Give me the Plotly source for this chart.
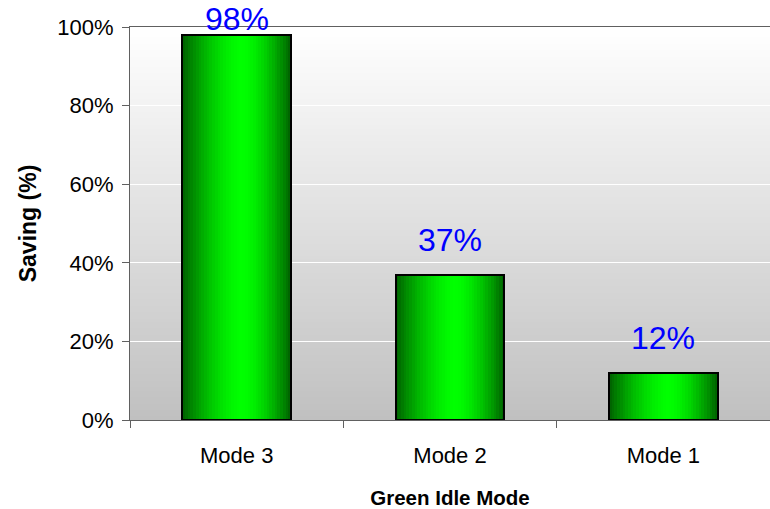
import math
import plotly.graph_objects as go

categories = ["Mode 3", "Mode 2", "Mode 1"]
savings = [0.98, 0.37, 0.12]
label_texts = ["98%", "37%", "12%"]
y_ticks = [0, 0.2, 0.4, 0.6, 0.8, 1.0]
y_tick_labels = ["0%", "20%", "40%", "60%", "80%", "100%"]

FONT = "Liberation Sans, Arial, sans-serif"
BAR_W = 0.51
N_STRIPES = 40
PEAK = 0.55

fig = go.Figure()

# horizontal green gradient drawn as thin bar stripes
dw = BAR_W / N_STRIPES
for i in range(N_STRIPES):
    t = (i + 0.5) / N_STRIPES
    side = PEAK if t < PEAK else 1 - PEAK
    d = abs(t - PEAK) / side
    g = int(round(95 + 160 * (1 - d ** 1.6)))
    w = min(2 * dw, BAR_W - i * dw)
    fig.add_trace(go.Bar(
        x=categories, y=savings, width=w, offset=-BAR_W / 2 + i * dw,
        marker=dict(color=f"rgb(0,{g},0)", line=dict(width=0)),
        hoverinfo="skip", showlegend=False,
    ))

# outline
fig.add_trace(go.Bar(
    x=categories, y=savings, width=BAR_W, offset=-BAR_W / 2,
    marker=dict(color="rgba(0,0,0,0)", line=dict(color="black", width=2)),
    showlegend=False,
))

# value labels
for c, v, txt in zip(categories, savings, label_texts):
    fig.add_annotation(
        x=c, y=min(v + 0.037, 0.969), text=txt, showarrow=False,
        xanchor="center", yanchor="bottom",
        font=dict(family=FONT, size=32, color="#0000ff"),
    )

# plot-area vertical gradient background
N_BG = 120
for i in range(N_BG):
    f = (i + 0.5) / N_BG
    c = int(round(192 + (255 - 192) * f))
    fig.add_shape(
        type="rect", xref="paper", yref="paper",
        x0=0, x1=1, y0=i / N_BG, y1=min((i + 1.6) / N_BG, 1),
        fillcolor=f"rgb({c},{c},{c})", line=dict(width=0), layer="below",
    )

fig.update_layout(
    width=770, height=509,
    margin=dict(l=130, r=0, t=27, b=89, autoexpand=False),
    paper_bgcolor="white", plot_bgcolor="rgba(0,0,0,0)",
    barmode="overlay", bargap=0, showlegend=False,
    font=dict(family=FONT, color="black"),
)
fig.update_xaxes(
    type="category", range=[-0.5, 2.5],
    showline=True, linecolor="#606060", linewidth=1, mirror=True,
    ticks="outside", tickson="boundaries", ticklen=7, tickcolor="#606060",
    showgrid=False, tickfont=dict(size=22, family=FONT, color="black"),
    ticklabelstandoff=16,
    title=dict(text="<b>Green Idle Mode</b>", font=dict(size=20.5, family=FONT), standoff=24),
)
fig.update_yaxes(
    range=[0, 1], tickvals=y_ticks, ticktext=y_tick_labels,
    showline=True, linecolor="#606060", linewidth=1, zeroline=False,
    ticks="outside", ticklen=7, tickcolor="#606060",
    showgrid=True, gridcolor="white", gridwidth=1,
    tickfont=dict(size=22, family=FONT, color="black"),
    ticklabelstandoff=4,
    title=dict(text="<b>Saving (%)</b>", font=dict(size=23, family=FONT), standoff=14),
)

fig.write_html("out.html", config={"displayModeBar": False},
               post_script="document.body.style.margin='0';")
